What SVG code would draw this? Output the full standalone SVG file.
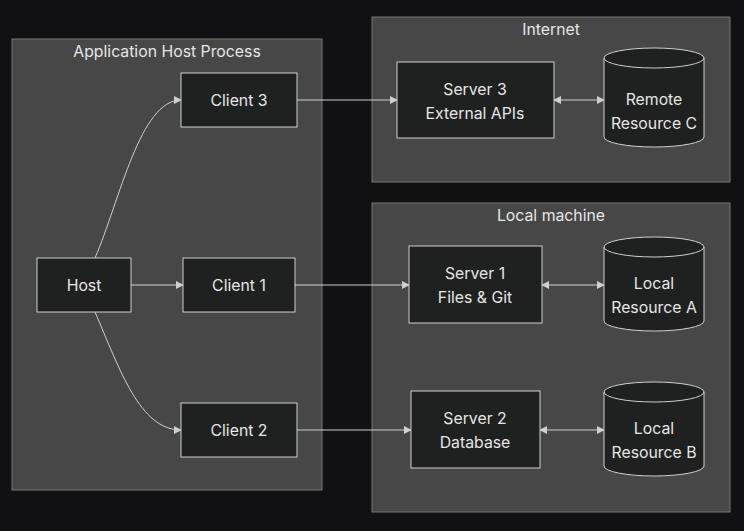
<svg xmlns="http://www.w3.org/2000/svg" width="744" height="531" viewBox="0 0 744 531">
<style>
.cl{fill:#474747;stroke:#777;stroke-width:1}
.n{fill:#1f2020;stroke:#cfcfcf;stroke-width:1}
text{font-family:Inter,"Liberation Sans",sans-serif;font-size:15.8px;fill:#e6e6e6;text-anchor:middle}
.e{fill:none;stroke:#cfcfcf;stroke-width:1}
</style>
<defs>
<marker id="a" viewBox="0 0 10 10" refX="9" refY="5" markerWidth="8" markerHeight="8" orient="auto-start-reverse"><path d="M0,0L10,5L0,10z" fill="#cfcfcf"/></marker>
</defs>
<rect width="744" height="531" fill="#111113"/>
<g id="cluster-app"><rect class="cl" x="12" y="39" width="310" height="451"/><text x="167" y="57">Application Host Process</text></g>
<g id="cluster-internet"><rect class="cl" x="372" y="17" width="358" height="165"/><text x="551" y="35">Internet</text></g>
<g id="cluster-local"><rect class="cl" x="372" y="203" width="358" height="309"/><text x="551" y="221">Local machine</text></g>
<g id="edges">
<path class="e" marker-end="url(#a)" d="M95,258 C120,200 140,100 181,100"/>
<path class="e" marker-end="url(#a)" d="M95,312 C120,370 140,430 181,430"/>
<path class="e" marker-end="url(#a)" d="M131,285H183"/>
<path class="e" marker-end="url(#a)" d="M297,100H397"/>
<path class="e" marker-end="url(#a)" d="M295,285H409"/>
<path class="e" marker-end="url(#a)" d="M297,430H411"/>
<path class="e" marker-start="url(#a)" marker-end="url(#a)" d="M554,100H604"/>
<path class="e" marker-start="url(#a)" marker-end="url(#a)" d="M542,285H604"/>
<path class="e" marker-start="url(#a)" marker-end="url(#a)" d="M540,430H604"/>
</g>
<g id="host"><rect class="n" x="37" y="258" width="94" height="54"/><text x="84" y="291">Host</text></g>
<g id="client3"><rect class="n" x="181" y="73" width="116" height="54"/><text x="239" y="106">Client 3</text></g>
<g id="client1"><rect class="n" x="183" y="258" width="112" height="54"/><text x="239" y="291">Client 1</text></g>
<g id="client2"><rect class="n" x="181" y="403" width="116" height="54"/><text x="239" y="436">Client 2</text></g>
<g id="server3"><rect class="n" x="397" y="62" width="157" height="76"/><text x="475" y="95">Server 3</text><text x="475" y="119">External APIs</text></g>
<g id="server1"><rect class="n" x="409" y="246" width="133" height="77"/><text x="475" y="279">Server 1</text><text x="475" y="303">Files &amp; Git</text></g>
<g id="server2"><rect class="n" x="411" y="391" width="129" height="77"/><text x="475" y="424">Server 2</text><text x="475" y="448">Database</text></g>
<g id="resC"><path class="n" d="M604,58 A50,10 0 0 1 704,58 V137 A50,10 0 0 1 604,137 Z"/><path class="e" d="M604,58 A50,10 0 0 0 704,58"/><text x="654" y="105">Remote</text><text x="654" y="129">Resource C</text></g>
<g id="resA"><path class="n" d="M604,247 A50,10 0 0 1 704,247 V321 A50,10 0 0 1 604,321 Z"/><path class="e" d="M604,247 A50,10 0 0 0 704,247"/><text x="654" y="289">Local</text><text x="654" y="313">Resource A</text></g>
<g id="resB"><path class="n" d="M604,392 A50,10 0 0 1 704,392 V466 A50,10 0 0 1 604,466 Z"/><path class="e" d="M604,392 A50,10 0 0 0 704,392"/><text x="654" y="434">Local</text><text x="654" y="458">Resource B</text></g>
</svg>
